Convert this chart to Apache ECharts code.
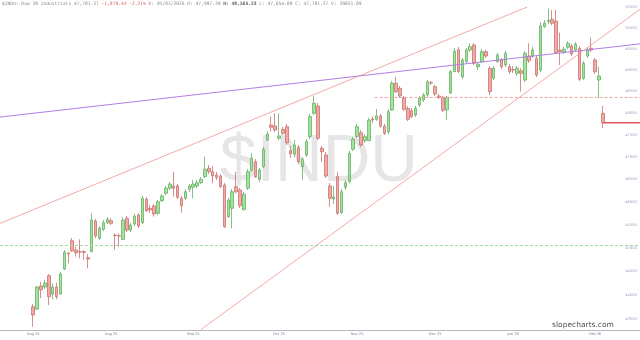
<!DOCTYPE html>
<html><head><meta charset="utf-8">
<script src="https://cdn.jsdelivr.net/npm/echarts@6/dist/echarts.min.js"></script>
<style>html,body{margin:0;padding:0;background:#fff}#c{width:640px;height:340px}</style>
</head><body><div id="c"></div>
<script>
// ---- data (Dow 30 Industrials, daily) ----
const opens = [
43756,43708,44192,44171,44410,44023,44171,44023,44552,44888,
45160,44959,44927,44923,44794,44923,45587,45212,45406,45550,
45594,45283,45268,45190,45646,45391,45522,45719,45550,46062,
45865,45916,45755,46032,46195,46308,46357,46357,46084,46084,
46284,46328,46357,46430,46564,46751,46675,46602,46579,46379,
45681,45865,46341,46268,45843,46308,46713,46899,46506,46788,
47388,47729,47706,47427,47631,47690,47146,47072,47223,46788,
47050,47463,47997,48165,47200,47050,46357,46069,46564,45769,
46328,46452,47178,47463,47554,47372,47372,47866,47859,47935,
47706,47576,48073,48690,48574,48342,48112,48057,47958,48188,
48303,48419,48705,48612,48396,48366,48080,48465,48961,49479,
48837,49196,49472,49591,49079,49196,49432,49041,48806,49196,
49236,49119,49079,49013,48923,48985,48767,49330,49330,49275,
49001,50028,50151,50204,50163,49472,49432,49536,49567,49472,
49512,48806,49330,49512,49236,48767,47997];
const closes = [
43583,44171,44107,44255,43966,44171,43966,44446,44916,44873,
44944,44901,44916,44905,44766,45609,45261,45428,45550,45624,
45537,45272,45261,45609,45391,45500,45697,45478,46084,45813,
45828,45740,46010,46135,46308,46401,46308,46107,45922,46230,
46357,46401,46430,46506,46729,46675,46579,46550,46341,45463,
46047,46230,46230,45922,46173,46675,46975,46564,46713,47178,
47524,47677,47615,47479,47540,47327,47072,47275,46899,46953,
47350,47920,48227,47427,47124,46579,46084,46113,45756,46230,
46430,47088,47404,47690,47275,47463,47843,47843,47935,47706,
47540,48034,48697,48496,48396,48089,47859,47920,48112,48342,
48419,48728,48698,48442,48366,48066,48366,48961,49444,48961,
49236,49472,49551,49158,49135,49432,49330,48496,49041,49354,
49079,49394,48961,49001,49041,48923,49394,49220,49472,48884,
50044,50109,50175,50109,49408,49432,49488,49631,49378,49614,
48783,49158,49472,49472,48961,48860,47781];
const lows = [
43340,43687,43939,44128,43792,43912,43912,44002,44531,44674,
44916,44816,44781,44745,44567,44916,45218,45175,45369,45522,
45500,44959,45030,45175,45348,45348,45478,45435,45522,45784,
45762,45681,45719,46003,46158,46268,46120,46069,45769,46047,
46224,46084,46313,46401,46535,46624,46417,46490,46313,45435,
45653,45428,46195,45872,45806,46268,46668,46535,46446,46758,
47365,47576,47570,47388,47501,47275,46982,47005,46847,46490,
47005,47411,47958,47388,46892,46535,45900,45960,45719,45740,
46268,46424,47140,47433,47230,47320,47365,47768,47820,47661,
47501,47524,48050,48465,48349,48050,47820,47889,47912,48142,
48257,48372,48651,48396,48326,48027,47843,48442,48954,48931,
48790,49166,49425,49119,49001,49166,49283,48419,48767,49166,
49025,49072,48907,48931,48860,48496,48721,49166,49283,48837,
48954,49996,50091,50067,49378,49119,49378,49496,49330,49425,
48744,48767,49283,49425,48907,48349,47654];
const highs = [
43813,44192,44277,44319,44446,44249,44262,44489,44959,44923,
45218,45030,45190,44959,44873,45756,45631,45478,45609,45675,
45653,45320,45320,45675,45697,45544,45740,45762,46135,46113,
45938,45960,46047,46180,46357,46446,46675,46401,46135,46290,
46401,46490,46490,46557,47011,46825,46803,46668,46624,46424,
46091,46290,46675,46313,46224,46735,47088,46960,46758,47230,
47592,47920,47997,47997,47683,47752,47252,47388,47275,47005,
47411,47981,48396,48234,47252,47117,46424,46357,46668,46290,
46490,47140,47456,47752,47615,47524,47889,47920,48096,47981,
47752,48096,48744,48844,48628,48396,48165,48119,48165,48396,
48465,48767,48744,48651,48442,48396,48396,49001,49519,49543,
49283,49519,49631,49638,49189,49496,49472,49095,49095,49401,
49283,49448,49142,49095,49095,49048,49448,49631,49543,49330,
50139,50187,50469,50428,50428,49884,49543,49686,49614,49662,
49567,49213,49543,49773,49283,49079,48165];

// trading calendar (categories)
const firstDay = '2025-08-01';
const holidays = ['2025-09-01','2025-11-27','2025-12-25','2026-01-01','2026-01-19','2026-02-16'];
const padBefore = 8, padAfter = 9;
// x-axis tick labels sit on these bars
const xLabelBars = [0, 20, 41, 63, 83, 103, 123, 144];
// y-axis tick labels
const yTicks = [43500,44000,44500,45000,45500,46000,46500,47000,47500,48000,48500,49000,49500,50000,50500];

// drawn study lines: [barIndex, price]
const purpleLine = [[-8.5, 47910], [155.5, 49617]];
const upperRedLine = [[-8.5, 45535], [126.6, 50500]];
const lowerRedLine = [[42.85, 43272], [155.5, 50444]];
const pinkLevel = [[87.5, 48361], [155.5, 48361]];
const greenLevel = [[-8.5, 45056], [155.5, 45056]];
const lastPriceLine = [[146, 47781], [155.5, 47781]];

const headerMain = '$INDU: Dow 30 Industrials 47,781.37 ';
const headerChg = '-1,079.43 -2.21%';
const headerRest = ' D: 03/03/2026 O: 47,997.39 ';
const headerH = 'H: 48,165.23';
const headerTail = ' L: 47,654.08 C: 47,781.37 V: 39831.89';

// ---- build ----
function tradingDays(start, n) {
  const out = [];
  const d = new Date(start + 'T12:00:00Z');
  while (out.length < n) {
    const wd = d.getUTCDay();
    const s = d.toISOString().slice(0, 10);
    if (wd !== 0 && wd !== 6 && holidays.indexOf(s) < 0) out.push(s);
    d.setUTCDate(d.getUTCDate() + 1);
  }
  return out;
}
const dates = tradingDays(firstDay, closes.length);
const categories = [];
for (let i = 0; i < padBefore; i++) categories.push('pre' + i);
dates.forEach(d => categories.push(d));
for (let i = 0; i < padAfter; i++) categories.push('post' + i);
const labelSet = {};
xLabelBars.forEach(b => labelSet[b + padBefore] = true);
const MON = ['Jan','Feb','Mar','Apr','May','Jun','Jul','Aug','Sep','Oct','Nov','Dec'];

const candleData = closes.map((c, i) => [i + padBefore, opens[i], c, lows[i], highs[i]]);
const xMin = -padBefore - 0.5, xMax = closes.length + padAfter - 0.5;
const labelBar = 153.2;

function lineSeries(data, color, width, dash) {
  return {
    type: 'line', xAxisIndex: 1, yAxisIndex: 0, data: data, symbol: 'none', silent: true,
    lineStyle: { color: color, width: width, type: dash || 'solid' },
    emphasis: { disabled: true }, z: 4, animation: false
  };
}

const chart = echarts.init(document.getElementById('c'), null, { renderer: 'canvas' });
chart.setOption({
  animation: false,
  backgroundColor: '#ffffff',
  grid: { left: -1, right: -1, top: 0, bottom: 10, containLabel: false },
  xAxis: [{
    type: 'category', data: categories, boundaryGap: true,
    axisLine: { lineStyle: { color: '#b8b8b8', width: 1 } },
    axisTick: { show: false },
    splitLine: { show: false },
    axisLabel: {
      interval: (idx) => !!labelSet[idx],
      formatter: (v) => { const p = v.split('-'); return MON[+p[1] - 1] + ' ' + p[0].slice(2); },
      fontSize: 3.6, color: '#6f7fa0', margin: 2, fontFamily: 'DejaVu Sans'
    }
  }, {
    type: 'value', min: xMin, max: xMax, show: false
  }],
  yAxis: [{
    type: 'log', logBase: 10, min: 43272, max: 50669, position: 'right',
    axisLine: { show: false }, axisTick: { show: false }, splitLine: { show: false },
    axisLabel: { show: false }
  }],
  graphic: [{
    type: 'text', x: 319, y: 163, z: 0, silent: true,
    style: { text: '$INDU', font: '66px "Liberation Sans"', fill: '#e6e6e6', align: 'center', verticalAlign: 'middle' }
  }, {
    type: 'text', x: 583, y: 325, z: 10, silent: true,
    style: { text: 'slopecharts.com', font: '7.5px "DejaVu Sans"', fill: '#505050', align: 'center', verticalAlign: 'middle' }
  }, {
    type: 'text', x: 2, y: 4, z: 10, silent: true,
    style: {
      text: '{g|' + headerMain + '}{r|' + headerChg + '}{g|' + headerRest + '}{b|' + headerH + '}{g|' + headerTail + '}',
      verticalAlign: 'middle', align: 'left',
      rich: {
        g: { font: '4.6px "DejaVu Sans Mono"', fill: '#8a8a8a' },
        r: { font: '4.6px "DejaVu Sans Mono"', fill: '#e06060' },
        b: { font: 'bold 4.6px "DejaVu Sans Mono"', fill: '#555555' }
      }
    }
  }],
  series: [
    {
      type: 'candlestick', xAxisIndex: 0, yAxisIndex: 0, data: candleData,
      encode: { x: 0, y: [1, 2, 3, 4] }, barWidth: 3, z: 2,
      itemStyle: { color: '#9fe69a', color0: '#f4a9a4', borderColor: '#6aae66', borderColor0: '#c87470', borderWidth: 0.8 }
    },
    lineSeries(purpleLine, '#b47ce2', 1),
    lineSeries(upperRedLine, '#f09490', 0.8),
    lineSeries(lowerRedLine, '#f09490', 0.8),
    lineSeries(pinkLevel, '#f2a4a4', 1, [3, 2]),
    lineSeries(greenLevel, '#9cd89c', 1, [3, 2]),
    lineSeries(lastPriceLine, '#e45a5a', 1.6),
    {
      type: 'scatter', xAxisIndex: 1, yAxisIndex: 0, silent: true, symbolSize: 0, z: 6,
      data: yTicks.map(v => [labelBar, v]),
      label: { show: true, position: 'inside', formatter: (p) => String(p.value[1]), fontSize: 3.6, color: '#7d8aa8', fontFamily: 'DejaVu Sans' }
    }
  ]
});
</script></body></html>
